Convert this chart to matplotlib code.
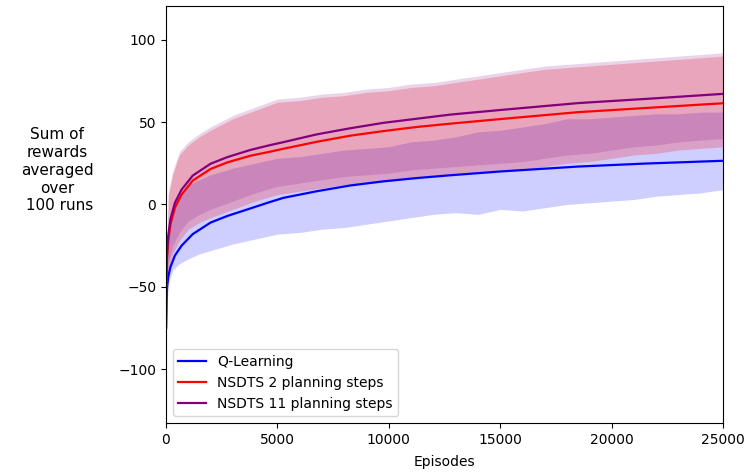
import numpy as np
import matplotlib
matplotlib.use("Agg")
import matplotlib.pyplot as plt

# smoothed curves, values
curve_ep = [1, 20, 50, 100, 200, 400, 700, 1200, 2000, 2750, 3770, 4670, 5270,
            6760, 8260, 9750, 11250, 12750, 15000, 18500, 21500, 25000]
q_learning = [-75, -58, -50, -44, -38, -31, -25, -18, -11, -7, -2.5, 1.5, 4,
              8, 11.5, 14, 16, 17.7, 20, 23, 24.8, 26.5]
nsdts_2 = [-75, -45, -32, -22, -12, -2, 6, 14.5, 21.5, 25.5, 29.5, 32, 33.8,
           38, 41.7, 44.5, 47, 49, 51.8, 56, 58.5, 61.4]
nsdts_11 = [-75, -42, -29, -19, -9, 1, 9, 17.5, 24.7, 28.7, 33, 36, 37.8,
            42.5, 46.2, 49.5, 52, 54.5, 57.3, 61.5, 64, 67.1]

# envelopes of the raw (noisy) runs
band_ep = [0, 100, 300, 600, 1000, 1500, 2000, 3000, 4000, 5000, 6000, 7000,
           8000, 9000, 10000, 11000, 12000, 13000, 14000, 15000, 16000, 17000,
           18000, 19000, 20000, 21000, 22000, 23000, 24000, 25000]
q_low = [-78, -48, -40, -36, -33, -30, -28, -24, -21, -18, -17, -15,
         -14, -12, -10, -8, -6, -5, -6, -3, -4, -2, 0, 1, 2, 3, 5, 6, 7, 9]
q_high = [-65, -20, -5, 5, 12, 15, 18, 22, 25, 28, 29, 31,
          33, 34, 35, 38, 39, 41, 44, 45, 47, 49, 52, 52, 53, 54, 55, 55, 56, 56]
n2_low = [-75, -40, -30, -22, -15, -11, -8, -3, 2, 6, 8, 10,
          12, 13, 14, 16, 17, 18, 19, 20, 21, 23, 25, 26, 28, 30, 31, 33, 34, 35]
n2_high = [-60, 5, 18, 30, 36, 41, 45, 52, 57, 62, 63, 65,
           66, 68, 69, 71, 72, 74, 76, 78, 80, 82, 83, 84, 85, 86, 87, 88, 89, 90]

xticks = [0, 5000, 10000, 15000, 20000, 25000]
yticks = [-100, -50, 0, 50, 100]

fig = plt.figure(figsize=(7.45, 4.73), dpi=100)
ax = fig.add_axes([0.2228, 0.1057, 0.7477, 0.8816])

ep_b = np.array(band_ep)
ax.fill_between(ep_b, q_low, q_high, color="blue", alpha=0.19, lw=0)
ax.fill_between(ep_b, n2_low, n2_high, color="red", alpha=0.22, lw=0)
ax.fill_between(ep_b, np.array(n2_low) + 5, np.array(n2_high) + 2,
                color="purple", alpha=0.17, lw=0)

ax.plot(curve_ep, q_learning, color="blue", lw=1.6, label="Q-Learning")
ax.plot(curve_ep, nsdts_2, color="red", lw=1.6, label="NSDTS 2 planning steps")
ax.plot(curve_ep, nsdts_11, color="purple", lw=1.6, label="NSDTS 11 planning steps")

ax.set_xlim(0, 25000)
ax.set_ylim(-132.6, 120.4)
ax.set_xticks(xticks)
ax.set_yticks(yticks)
ax.tick_params(labelsize=10)
ax.set_xlabel("Episodes", fontsize=10, labelpad=6)
fig.text(0.077, 0.64, "Sum of\nrewards\naveraged\nover\n 100 runs",
         ha="center", va="center", fontsize=11, linespacing=1.23)
ax.legend(loc="lower left", fontsize=10)

fig.savefig("out.png", dpi=100)
